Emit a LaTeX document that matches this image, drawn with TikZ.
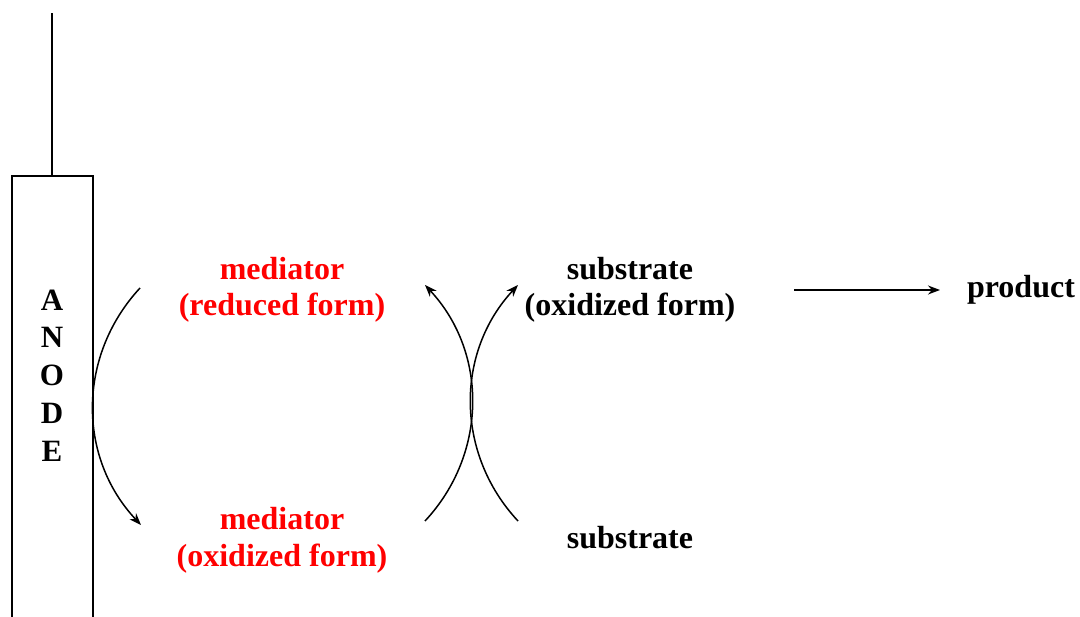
\documentclass[tikz,border=0pt]{standalone}
\usepackage{fontspec}
\setmainfont{Liberation Serif}
\usetikzlibrary{arrows.meta}
\begin{document}
\begin{tikzpicture}[x=1pt, y=-1pt, line width=1.5pt,
  lbl/.style={font=\fontsize{32}{36}\selectfont\bfseries, anchor=base, inner sep=0pt},
  redlbl/.style={lbl, text=red},
  letter/.style={font=\fontsize{31}{36}\selectfont\bfseries, anchor=base, inner sep=0pt},
  cyc/.style={-{Stealth[length=12pt, width=9pt]}}]
\useasboundingbox (0,0) rectangle (1080,617);

% electrode with its lead
\coordinate (lead) at (52,13);
\coordinate (leadfoot) at (52,176);
\draw (12,617) -- (12,176) -- (93,176) -- (93,617);
\draw (leadfoot) -- (lead);
\node[letter] (lA) at (52,311) {A};
\node[letter] (lN) at (52,348) {N};
\node[letter] (lO) at (52,386) {O};
\node[letter] (lD) at (52,424) {D};
\node[letter] (lE) at (52,462) {E};

% mediator species
\node[redlbl] (medred1) at (282,280) {mediator};
\node[redlbl] (medred2) at (282,316) {(reduced form)};
\node[redlbl] (medox1) at (282,530) {mediator};
\node[redlbl] (medox2) at (282,566) {(oxidized form)};

% substrate species
\node[lbl] (subox1) at (630,280) {substrate};
\node[lbl] (subox2) at (630,316) {(oxidized form)};
\node[lbl] (sub) at (630,549) {substrate};
\node[lbl] (prod) at (1021,298) {product};

% arc end points
\coordinate (elA) at (140,288);
\coordinate (elB) at (141,525);
\coordinate (mB) at (425,521);
\coordinate (mT) at (425,285);
\coordinate (sB) at (518,521);
\coordinate (sT) at (518,285);
\coordinate (pA) at (794,290);
\coordinate (pB) at (940,290);

\draw[cyc] (elA) to[bend right=43] (elB);
\draw[cyc] (mB) to[bend right=43] (mT);
\draw[cyc] (sB) to[bend left=43] (sT);
\draw[cyc] (pA) -- (pB);
\end{tikzpicture}
\end{document}
